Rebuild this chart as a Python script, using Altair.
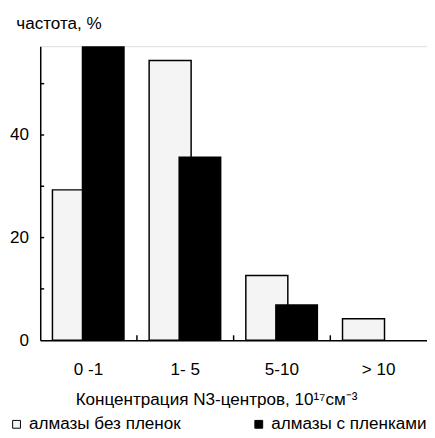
import altair as alt
import pandas as pd

categories = ["0 -1", "1- 5", "5-10", "> 10"]
series_names = ["алмазы без пленок", "алмазы с пленками"]
without_films = [29.3, 54.5, 12.6, 4.2]
with_films = [57.3, 35.8, 7.0, 0.0]
y_ticks = [10, 20, 30, 40, 50]
y_labels = [0, 20, 40]
boundary_cats = ["1- 5", "5-10", "> 10"]

rows = []
for c, a, b in zip(categories, without_films, with_films):
    rows.append({"cat": c, "series": series_names[0], "value": a})
    rows.append({"cat": c, "series": series_names[1], "value": b})
df = pd.DataFrame(rows)
yt_df = pd.DataFrame({"v": y_ticks})
xb_df = pd.DataFrame({"cat": boundary_cats})

FONT = "Liberation Sans"
FS = 17.5
PW, PH = 396, 301

xscale = alt.Scale(domain=categories, paddingInner=0, paddingOuter=0)
yscale = alt.Scale(domain=[0, 57.3], nice=False, zero=True)
cscale = alt.Scale(domain=series_names, range=["#f4f4f4", "#000000"])

color_enc = alt.Color(
    "series:N", scale=cscale,
    legend=alt.Legend(
        title=None, orient="none", direction="horizontal",
        legendX=-33, legendY=378, padding=0,
        symbolType="square", symbolSize=64, symbolStrokeColor="black",
        symbolStrokeWidth=1, symbolOpacity=1,
        labelFont=FONT, labelFontSize=FS, labelColor="black",
        labelOffset=4, columnPadding=70, labelLimit=300,
    ),
)

base = alt.Chart(df)

white = base.transform_filter(alt.datum.series == series_names[0]).mark_bar(
    width=43, xOffset=-15.5, stroke="black", strokeWidth=1.5, opacity=1
).encode(
    x=alt.X("cat:N", scale=xscale, sort=categories,
            axis=alt.Axis(title="Концентрация N3-центров, 10¹⁷см⁻³",
                          orient="bottom", ticks=False, domain=True,
                          domainColor="black", domainWidth=1.5,
                          labelAngle=0, labelFont=FONT, labelFontSize=FS,
                          labelColor="black", labelPadding=21,
                          titleFont=FONT, titleFontSize=FS, titleFontWeight="normal",
                          titleColor="black", titlePadding=13,
                          titleX=180, titleAlign="center")),
    y=alt.Y("value:Q", scale=yscale,
            axis=alt.Axis(title="частота, %", values=y_labels, ticks=False,
                          domain=True, domainColor="black", domainWidth=1.5,
                          grid=False, labelFont=FONT, labelFontSize=FS,
                          labelColor="black", labelPadding=12,
                          titleAngle=0, titleX=-25, titleY=-18,
                          titleAlign="left", titleBaseline="alphabetic",
                          titleFont=FONT, titleFontSize=FS,
                          titleFontWeight="normal", titleColor="black")),
    color=color_enc,
)

black = base.transform_filter(alt.datum.series == series_names[1]).mark_bar(
    width=44, xOffset=15, opacity=1
).encode(
    x=alt.X("cat:N", scale=xscale, sort=categories),
    y=alt.Y("value:Q", scale=yscale),
    color=color_enc,
)

y_tick_marks = alt.Chart(yt_df).mark_rule(color="black", strokeWidth=1.5).encode(
    y=alt.Y("v:Q", scale=yscale),
    x=alt.value(0), x2=alt.value(4),
)

x_tick_marks = alt.Chart(xb_df).mark_rule(color="black", strokeWidth=1.5).encode(
    x=alt.X("cat:N", scale=xscale, sort=categories, bandPosition=0),
    y=alt.value(PH), y2=alt.value(PH - 5),
)

chart = alt.layer(white, black, y_tick_marks, x_tick_marks).properties(
    width=PW, height=PH,
    autosize=alt.AutoSizeParams(type="none"),
    padding={"left": 33, "top": 34, "right": 0, "bottom": 95},
).configure_view(stroke=None).configure(background="white")

chart.save("out.html", embed_options={"renderer": "svg", "actions": False})
